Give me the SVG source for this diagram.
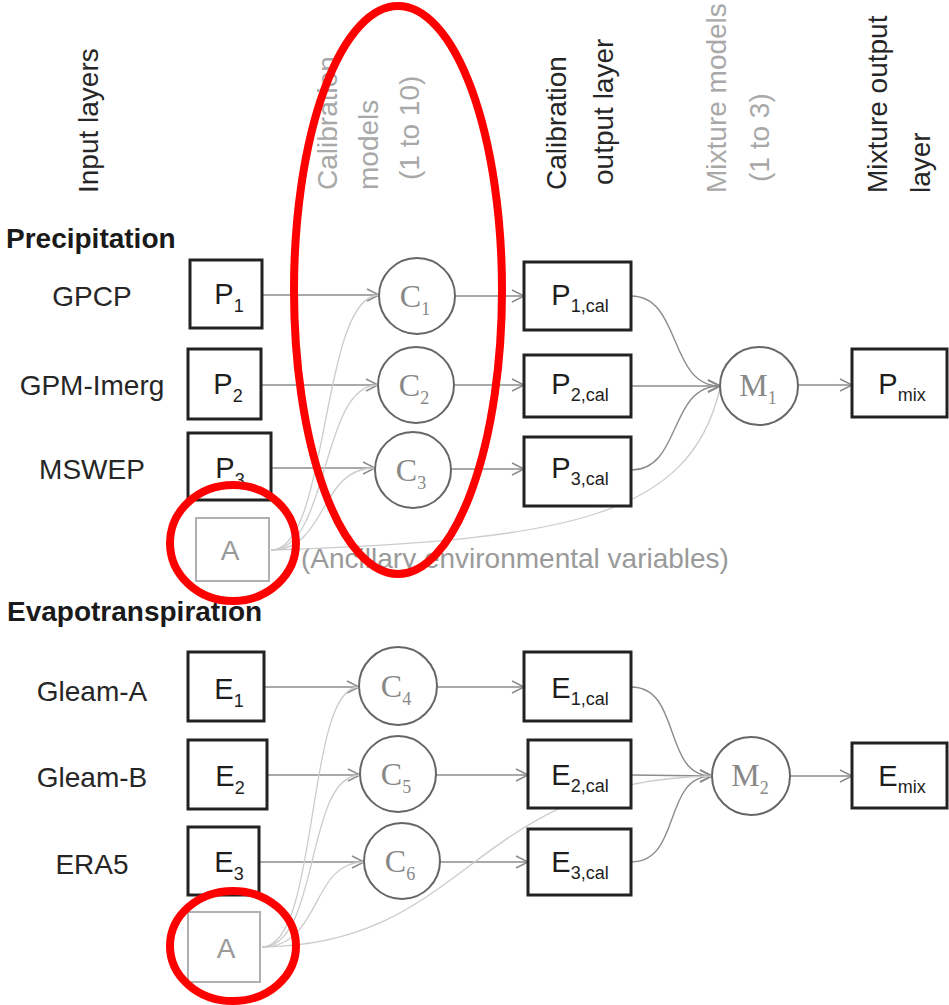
<svg xmlns="http://www.w3.org/2000/svg" width="949" height="1005" viewBox="0 0 949 1005">
<defs>
<style>
.hd{font-family:"Liberation Sans",Arial,sans-serif;font-size:28px;fill:#262626}
.hg{font-family:"Liberation Sans",Arial,sans-serif;font-size:28px;fill:#a8a8a8}
.sec{font-family:"Liberation Sans",Arial,sans-serif;font-size:28px;font-weight:bold;fill:#1a1a1a}
.lbl{font-family:"Liberation Sans",Arial,sans-serif;font-size:28px;fill:#262626;text-anchor:middle}
.anc{font-family:"Liberation Sans",Arial,sans-serif;font-size:28px;fill:#9a9a9a}
.box{fill:#fff;stroke:#222;stroke-width:3}
.abox{fill:#fff;stroke:#b0b0b0;stroke-width:2}
.bt{font-family:"Liberation Sans",Arial,sans-serif;font-size:29px;fill:#1e1e1e;text-anchor:middle}
.at{font-family:"Liberation Sans",Arial,sans-serif;font-size:28px;fill:#9a9a9a;text-anchor:middle}
.sub{font-size:18px}
.cir{fill:#fff;stroke:#666;stroke-width:2}
.ct{font-family:"Liberation Serif","Times New Roman",serif;font-size:32px;fill:#888;text-anchor:middle}
.ln{fill:none;stroke:#8c8c8c;stroke-width:1.6}
.lc{fill:none;stroke:#8c8c8c;stroke-width:1.4}
.la{fill:none;stroke:#cccccc;stroke-width:1.3}
.red{fill:none;stroke:#ff0000;stroke-width:8}
</style>
<marker id="arr" markerUnits="userSpaceOnUse" markerWidth="16" markerHeight="16" refX="13" refY="7" orient="auto">
<path d="M1,1 L13,7 L1,13" fill="none" stroke="#8c8c8c" stroke-width="1.5"/>
</marker>
</defs>

<g id="headers">
<text class="hd" transform="translate(98,193) rotate(-90)">Input layers</text>
<text class="hg" transform="translate(337,190) rotate(-90)">Calibration</text>
<text class="hg" transform="translate(378,190) rotate(-90)">models</text>
<text class="hg" transform="translate(419,180) rotate(-90)">(1 to 10)</text>
<text class="hd" transform="translate(566,190) rotate(-90)">Calibration</text>
<text class="hd" transform="translate(613,185) rotate(-90)">output layer</text>
<text class="hg" transform="translate(726,193) rotate(-90)">Mixture models</text>
<text class="hg" transform="translate(769,182) rotate(-90)">(1 to 3)</text>
<text class="hd" transform="translate(887,193) rotate(-90)">Mixture output</text>
<text class="hd" transform="translate(930,193) rotate(-90)">layer</text>
</g>

<g id="section-labels">
<text class="sec" x="6" y="248">Precipitation</text>
<text class="sec" x="7" y="621">Evapotranspiration</text>
<text class="lbl" x="92" y="306">GPCP</text>
<text class="lbl" x="92" y="395">GPM-Imerg</text>
<text class="lbl" x="92" y="479">MSWEP</text>
<text class="lbl" x="92" y="701">Gleam-A</text>
<text class="lbl" x="92" y="787">Gleam-B</text>
<text class="lbl" x="92" y="874">ERA5</text>
<text class="anc" x="301" y="568">(Ancillary environmental variables)</text>
</g>

<g id="connectors">
<path class="ln" d="M262,295 L379,295" marker-end="url(#arr)"/>
<path class="ln" d="M261,385 L378,385" marker-end="url(#arr)"/>
<path class="ln" d="M271,468 L375,468" marker-end="url(#arr)"/>
<path class="ln" d="M455,296 L524,296" marker-end="url(#arr)"/>
<path class="ln" d="M454,385 L524,385" marker-end="url(#arr)"/>
<path class="ln" d="M451,469 L524,469" marker-end="url(#arr)"/>
<path class="lc" d="M631,296 C682,296 668,386 720,386" marker-end="url(#arr)"/>
<path class="lc" d="M631,386 L720,386" marker-end="url(#arr)"/>
<path class="lc" d="M631,470 C682,470 668,386 720,386" marker-end="url(#arr)"/>
<path class="ln" d="M798,385 L852,385" marker-end="url(#arr)"/>
<path class="la" d="M271,550 C330,550 320,296 379,295"/>
<path class="la" d="M271,550 C330,550 320,385 378,385"/>
<path class="la" d="M271,550 C328,550 318,468 375,468"/>
<path class="la" d="M271,550 C560,540 690,520 720,388"/>

<path class="ln" d="M264,687 L359,687" marker-end="url(#arr)"/>
<path class="ln" d="M267,775 L360,775" marker-end="url(#arr)"/>
<path class="ln" d="M259,862 L364,862" marker-end="url(#arr)"/>
<path class="ln" d="M437,687 L524,687" marker-end="url(#arr)"/>
<path class="ln" d="M436,775 L528,775" marker-end="url(#arr)"/>
<path class="ln" d="M440,862 L528,862" marker-end="url(#arr)"/>
<path class="lc" d="M631,687 C682,687 662,776 712,776" marker-end="url(#arr)"/>
<path class="lc" d="M631,775 L712,776" marker-end="url(#arr)"/>
<path class="lc" d="M631,862 C682,862 662,776 712,776" marker-end="url(#arr)"/>
<path class="ln" d="M790,776 L852,776" marker-end="url(#arr)"/>
<path class="la" d="M262,947 C320,947 305,687 359,687"/>
<path class="la" d="M262,947 C320,947 305,775 360,775"/>
<path class="la" d="M262,947 C322,947 310,862 364,862"/>
<path class="la" d="M262,947 C470,945 470,780 712,776"/>
</g>

<g id="P1"><rect class="box" x="190" y="260" width="72" height="68"/><text class="bt" x="229" y="304">P<tspan class="sub" dy="8">1</tspan></text></g>
<g id="P2"><rect class="box" x="188" y="349" width="73" height="70"/><text class="bt" x="228" y="394">P<tspan class="sub" dy="8">2</tspan></text></g>
<g id="P3"><rect class="box" x="188" y="433" width="83" height="67"/><text class="bt" x="230" y="478">P<tspan class="sub" dy="8">3</tspan></text></g>
<g id="A1"><rect class="abox" x="196" y="518" width="73" height="63"/><text class="at" x="230" y="560">A</text></g>

<g id="C1"><circle class="cir" cx="417" cy="296" r="38"/><text class="ct" x="415" y="307">C<tspan class="sub" dy="8">1</tspan></text></g>
<g id="C2"><circle class="cir" cx="416" cy="385" r="38"/><text class="ct" x="414" y="396">C<tspan class="sub" dy="8">2</tspan></text></g>
<g id="C3"><circle class="cir" cx="413" cy="470" r="38"/><text class="ct" x="411" y="481">C<tspan class="sub" dy="8">3</tspan></text></g>

<g id="P1cal"><rect class="box" x="524" y="262" width="107" height="68"/><text class="bt" x="580" y="305">P<tspan class="sub" dy="7">1,cal</tspan></text></g>
<g id="P2cal"><rect class="box" x="524" y="355" width="107" height="62"/><text class="bt" x="580" y="394">P<tspan class="sub" dy="7">2,cal</tspan></text></g>
<g id="P3cal"><rect class="box" x="524" y="437" width="107" height="69"/><text class="bt" x="580" y="478">P<tspan class="sub" dy="7">3,cal</tspan></text></g>

<g id="M1"><circle class="cir" cx="759" cy="386" r="39"/><text class="ct" x="758" y="396">M<tspan class="sub" dy="8">1</tspan></text></g>
<g id="Pmix"><rect class="box" x="852" y="349" width="95" height="68"/><text class="bt" x="902" y="394">P<tspan class="sub" dy="7">mix</tspan></text></g>

<g id="E1"><rect class="box" x="188" y="652" width="76" height="69"/><text class="bt" x="229" y="699">E<tspan class="sub" dy="8">1</tspan></text></g>
<g id="E2"><rect class="box" x="188" y="740" width="79" height="69"/><text class="bt" x="230" y="786">E<tspan class="sub" dy="8">2</tspan></text></g>
<g id="E3"><rect class="box" x="188" y="827" width="71" height="68"/><text class="bt" x="229" y="872">E<tspan class="sub" dy="8">3</tspan></text></g>
<g id="A2"><rect class="abox" x="188" y="912" width="72" height="70"/><text class="at" x="226" y="958">A</text></g>

<g id="C4"><circle class="cir" cx="398" cy="686" r="39"/><text class="ct" x="396" y="697">C<tspan class="sub" dy="8">4</tspan></text></g>
<g id="C5"><circle class="cir" cx="398" cy="774" r="38"/><text class="ct" x="396" y="785">C<tspan class="sub" dy="8">5</tspan></text></g>
<g id="C6"><circle class="cir" cx="402" cy="861" r="38"/><text class="ct" x="400" y="872">C<tspan class="sub" dy="8">6</tspan></text></g>

<g id="E1cal"><rect class="box" x="524" y="652" width="107" height="69"/><text class="bt" x="580" y="698">E<tspan class="sub" dy="7">1,cal</tspan></text></g>
<g id="E2cal"><rect class="box" x="528" y="740" width="103" height="68"/><text class="bt" x="580" y="785">E<tspan class="sub" dy="7">2,cal</tspan></text></g>
<g id="E3cal"><rect class="box" x="528" y="829" width="103" height="66"/><text class="bt" x="580" y="872">E<tspan class="sub" dy="7">3,cal</tspan></text></g>

<g id="M2"><circle class="cir" cx="751" cy="776" r="39"/><text class="ct" x="750" y="786">M<tspan class="sub" dy="8">2</tspan></text></g>
<g id="Emix"><rect class="box" x="852" y="743" width="95" height="65"/><text class="bt" x="902" y="786">E<tspan class="sub" dy="7">mix</tspan></text></g>

<g id="highlights">
<ellipse class="red" cx="398" cy="290" rx="104" ry="284"/>
<ellipse class="red" cx="233" cy="543" rx="63" ry="58"/>
<ellipse class="red" cx="233" cy="946" rx="63" ry="55"/>
</g>
</svg>
